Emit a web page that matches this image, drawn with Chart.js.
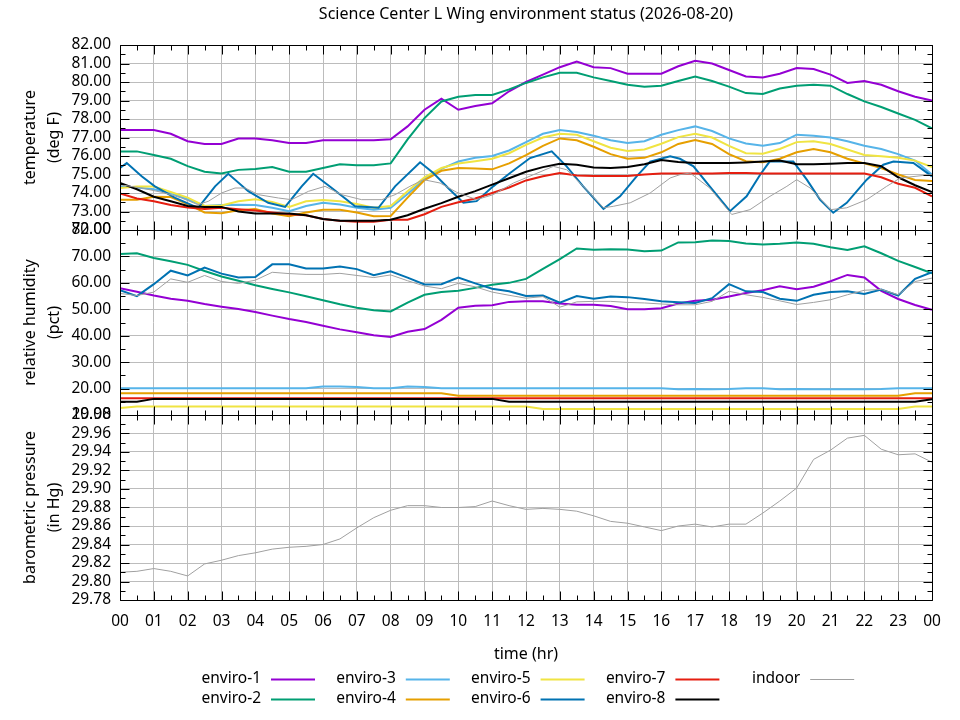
<!DOCTYPE html>
<html>
<head>
<meta charset="utf-8">
<title>Science Center L Wing environment status</title>
<script src="https://cdn.jsdelivr.net/npm/chart.js@4.4.1/dist/chart.umd.min.js"></script>
<style>
  html, body { margin: 0; padding: 0; background: #fff; }
  #wrap { width: 960px; height: 720px; }
</style>
</head>
<body>
<div id="wrap"><canvas id="envChart" width="960" height="720"></canvas></div>
<script>
// sample times, hours since midnight (half hour steps)
var hours = [0, 0.5, 1, 1.5, 2, 2.5, 3, 3.5, 4, 4.5, 5, 5.5, 6, 6.5, 7, 7.5,
             8, 8.5, 9, 9.5, 10, 10.5, 11, 11.5, 12, 12.5, 13, 13.5, 14, 14.5, 15, 15.5,
             16, 16.5, 17, 17.5, 18, 18.5, 19, 19.5, 20, 20.5, 21, 21.5, 22, 22.5, 23, 23.5,
             24];
var hourLabels = ['00', '01', '02', '03', '04', '05', '06', '07', '08', '09', '10', '11',
                  '12', '13', '14', '15', '16', '17', '18', '19', '20', '21', '22', '23', '00'];

var seriesNames  = ['enviro-1', 'enviro-2', 'enviro-3', 'enviro-4', 'enviro-5',
                    'enviro-6', 'enviro-7', 'enviro-8', 'indoor'];
var seriesColors = ['#9400d3', '#009e73', '#56b4e9', '#e69f00', '#f0e442',
                    '#0072b2', '#e51e10', '#000000', '#a0a0a0'];

// temperature (deg F)
var e1Temp = [77.4, 77.4, 77.4, 77.2, 76.8, 76.65, 76.65, 76.95,
              76.95, 76.85, 76.7, 76.7, 76.85, 76.85, 76.85, 76.85,
              76.9, 77.6, 78.5, 79.1, 78.5, 78.7, 78.85, 79.5,
              80.0, 80.4, 80.8, 81.1, 80.8, 80.75, 80.45, 80.45,
              80.45, 80.85, 81.15, 81.0, 80.65, 80.3, 80.25, 80.45,
              80.75, 80.7, 80.4, 79.95, 80.05, 79.85, 79.5, 79.2,
              79.0];
var e2Temp = [76.25, 76.25, 76.05, 75.85, 75.45, 75.15, 75.05, 75.25,
              75.3, 75.4, 75.15, 75.15, 75.35, 75.55, 75.5, 75.5,
              75.6, 76.9, 78.05, 78.95, 79.2, 79.3, 79.3, 79.6,
              79.95, 80.25, 80.5, 80.5, 80.25, 80.05, 79.85, 79.75,
              79.8, 80.05, 80.3, 80.05, 79.75, 79.4, 79.35, 79.65,
              79.8, 79.85, 79.8, 79.35, 78.95, 78.65, 78.3, 77.95,
              77.5];
var e3Temp = [74.36, 74.3, 74.2, 74.0, 73.65, 73.3, 73.35, 73.37,
              73.35, 73.2, 73.02, 73.3, 73.47, 73.38, 73.2, 73.1,
              73.2, 73.95, 74.75, 75.3, 75.7, 75.9, 76.0, 76.3,
              76.75, 77.2, 77.4, 77.3, 77.1, 76.85, 76.7, 76.8,
              77.15, 77.4, 77.6, 77.35, 76.95, 76.68, 76.55, 76.7,
              77.15, 77.1, 77.0, 76.8, 76.55, 76.38, 76.1, 75.75,
              75.0];
var e4Temp = [73.64, 73.64, 73.8, 73.78, 73.4, 72.95, 72.9, 73.07,
              73.14, 72.89, 72.74, 72.95, 73.1, 73.1, 72.95, 72.75,
              72.76, 73.75, 74.7, 75.2, 75.35, 75.33, 75.28, 75.6,
              76.05, 76.55, 76.95, 76.85, 76.5, 76.1, 75.85, 75.9,
              76.2, 76.65, 76.87, 76.65, 76.1, 75.72, 75.66, 75.85,
              76.2, 76.38, 76.2, 75.85, 75.6, 75.35, 75.0, 74.7,
              74.65];
var e5Temp = [74.27, 74.35, 74.35, 74.05, 73.75, 73.3, 73.32, 73.55,
              73.66, 73.52, 73.25, 73.55, 73.62, 73.55, 73.4, 73.2,
              73.3, 74.1, 74.85, 75.35, 75.6, 75.72, 75.85, 76.15,
              76.6, 77.0, 77.2, 77.15, 76.8, 76.45, 76.27, 76.35,
              76.66, 77.02, 77.2, 77.0, 76.55, 76.15, 76.12, 76.38,
              76.75, 76.8, 76.65, 76.35, 76.05, 75.98, 75.9, 75.75,
              75.4];
// enviro-6 and indoor swing like a sawtooth, so they keep their own times
var e6TempT = [0, 0.2, 0.64, 1.03, 1.63, 2.31, 2.81, 3.2, 3.79, 4.38, 4.88, 5.37, 5.71,
               6.26, 6.95, 7.64, 8.13, 8.87, 9.26, 9.75, 10.15, 10.54, 11.03, 11.53, 12.12,
               12.76, 13.2, 13.69, 14.29, 14.78, 15.27, 15.67, 16.26, 16.55, 16.95, 17.43,
               18.03, 18.52, 18.92, 19.2, 19.9, 20.3, 20.69, 21.08, 21.48, 22.07, 22.56,
               22.86, 23.45, 24];
var e6Temp  = [75.35, 75.62, 74.9, 74.36, 73.74, 73.2, 74.36, 75.04, 74.1, 73.47, 73.25, 74.36, 75.04,
               74.27, 73.28, 73.2, 74.36, 75.66, 75.08, 74.18, 73.47, 73.56, 74.36, 75.08, 75.89,
               76.25, 75.44, 74.36, 73.14, 73.82, 74.9, 75.7, 75.98, 75.85, 75.44, 74.36,
               73.02, 73.82, 74.99, 75.7, 75.7, 74.72, 73.64, 72.93, 73.47, 74.72, 75.53,
               75.7, 75.62, 74.9];
var e7Temp = [73.97, 73.7, 73.55, 73.35, 73.22, 73.14, 73.2, 73.12,
              73.05, 72.95, 72.85, 72.8, 72.6, 72.5, 72.45, 72.45,
              72.55, 72.55, 72.85, 73.25, 73.5, 73.7, 74.0, 74.3,
              74.68, 74.9, 75.08, 74.95, 74.92, 74.92, 74.92, 75.0,
              75.05, 75.05, 75.05, 75.05, 75.08, 75.08, 75.05, 75.05,
              75.05, 75.05, 75.05, 75.05, 75.05, 74.85, 74.5, 74.28,
              73.82];
var e8Temp = [74.54, 74.2, 73.8, 73.55, 73.3, 73.25, 73.25, 73.0,
              72.89, 72.89, 72.89, 72.8, 72.6, 72.5, 72.5, 72.5,
              72.55, 72.8, 73.15, 73.45, 73.8, 74.1, 74.45, 74.8,
              75.15, 75.4, 75.58, 75.53, 75.38, 75.35, 75.4, 75.55,
              75.78, 75.68, 75.62, 75.62, 75.62, 75.65, 75.7, 75.75,
              75.55, 75.55, 75.58, 75.62, 75.62, 75.45, 74.85, 74.42,
              74.05];
var indoorTempT = [0, 0.64, 1.33, 1.82, 2.3, 2.61, 3.0, 3.4, 3.7, 4.09, 4.68, 5.07, 5.57,
                   6.06, 6.55, 7.14, 7.74, 8.13, 8.57, 8.97, 9.46, 9.95, 10.54, 11.03, 11.63,
                   12.22, 12.81, 13.2, 13.69, 14.29, 14.58, 15.08, 15.67, 16.26, 16.55, 16.85,
                   17.43, 18.08, 18.62, 19.21, 19.71, 20.0, 20.4, 21.0, 21.48, 22.07, 22.66,
                   23.06, 24];
var indoorTemp  = [74.45, 74.27, 74.0, 73.73, 73.37, 73.55, 74.0, 74.27, 74.27, 73.91, 73.73, 73.64, 74.09,
                   74.36, 73.91, 73.64, 73.64, 73.91, 74.36, 74.72, 74.54, 74.04, 73.64, 73.91, 74.54,
                   74.99, 75.44, 75.26, 74.36, 73.2, 73.28, 73.47, 74.0, 74.81, 74.99, 75.08,
                   74.27, 72.84, 73.1, 73.82, 74.36, 74.72, 74.27, 73.1, 73.2, 73.64, 74.36,
                   74.81, 75.0];

// relative humidity (pct)
var e1Hum = [58.0, 56.6, 55.2, 54.0, 53.2, 52.0, 51.0, 50.1,
             49.0, 47.6, 46.3, 45.2, 43.8, 42.4, 41.3, 40.2,
             39.5, 41.5, 42.5, 46.0, 50.6, 51.3, 51.5, 52.8,
             53.0, 53.0, 52.2, 51.7, 51.7, 51.2, 50.0, 50.0,
             50.4, 52.2, 53.2, 53.6, 54.8, 56.2, 57.2, 58.7,
             57.6, 58.5, 60.6, 63.0, 62.0, 57.0, 53.9, 51.6,
             49.8];
var e2Hum = [70.9, 71.2, 69.4, 68.2, 66.8, 64.5, 62.4, 60.8,
             59.1, 57.7, 56.4, 54.9, 53.4, 51.9, 50.6, 49.6,
             49.2, 52.5, 55.5, 56.5, 57.0, 58.1, 59.3, 60.0,
             61.5, 65.3, 69.0, 73.0, 72.5, 72.7, 72.6, 72.0,
             72.2, 75.3, 75.4, 76.0, 75.8, 74.9, 74.5, 74.8,
             75.3, 74.8, 73.5, 72.4, 73.8, 71.2, 68.3, 66.0,
             63.6];
var e3Hum = [20.1, 20.1, 20.1, 20.1, 20.1, 20.1, 20.1, 20.1,
             20.1, 20.1, 20.1, 20.1, 20.8, 20.8, 20.6, 20.1,
             20.1, 20.8, 20.6, 20.1, 20.1, 20.1, 20.1, 20.1,
             20.1, 20.1, 20.1, 20.1, 20.1, 20.1, 20.1, 20.1,
             20.1, 19.7, 19.8, 19.7, 19.8, 20.1, 20.1, 19.7,
             19.8, 19.7, 19.7, 19.7, 19.7, 19.8, 20.1, 20.1,
             20.1];
var e4Hum = [18.2, 18.2, 18.2, 18.2, 18.2, 18.2, 18.2, 18.2,
             18.2, 18.2, 18.2, 18.2, 18.2, 18.2, 18.2, 18.2,
             18.2, 18.2, 18.2, 18.2, 17.25, 17.25, 17.25, 17.25,
             17.25, 17.25, 17.25, 17.25, 17.25, 17.25, 17.25, 17.25,
             17.25, 17.25, 17.25, 17.25, 17.25, 17.25, 17.25, 17.25,
             17.25, 17.25, 17.25, 17.25, 17.25, 17.25, 17.25, 18.2,
             18.2];
var e5Hum = [12.6, 13.2, 13.2, 13.2, 13.2, 13.2, 13.2, 13.2,
             13.2, 13.2, 13.2, 13.2, 13.2, 13.2, 13.2, 13.2,
             13.2, 13.2, 13.2, 13.2, 13.2, 13.2, 13.2, 13.2,
             13.2, 12.3, 12.3, 12.3, 12.3, 12.3, 12.3, 12.3,
             12.3, 12.3, 12.3, 12.3, 12.3, 12.3, 12.3, 12.3,
             12.3, 12.3, 12.3, 12.3, 12.3, 12.3, 12.3, 13.2,
             13.2];
var e6Hum = [57.2, 55.0, 59.5, 64.6, 62.8, 65.8, 63.5, 62.0,
             62.2, 67.0, 67.0, 65.4, 65.4, 66.2, 65.2, 62.9,
             64.4, 62.0, 59.4, 59.5, 62.0, 59.8, 57.8, 56.8,
             55.0, 55.2, 52.5, 55.0, 54.0, 54.8, 54.6, 53.9,
             53.0, 52.7, 52.4, 54.2, 59.5, 56.8, 56.5, 54.0,
             53.2, 55.5, 56.5, 56.8, 55.8, 57.5, 55.2, 61.5,
             64.0];
var e7Hum = [16.35, 16.35, 16.35, 16.35, 16.35, 16.35, 16.35, 16.35,
             16.35, 16.35, 16.35, 16.35, 16.35, 16.35, 16.35, 16.35,
             16.35, 16.35, 16.35, 16.35, 16.35, 16.35, 16.35, 16.35,
             16.35, 16.35, 16.35, 16.35, 16.35, 16.35, 16.35, 16.35,
             16.35, 16.35, 16.35, 16.35, 16.35, 16.35, 16.35, 16.35,
             16.35, 16.35, 16.35, 16.35, 16.35, 16.35, 16.35, 16.35,
             16.35];
var e8Hum = [15.05, 15.05, 16.1, 16.1, 16.1, 16.1, 16.1, 16.1,
             16.1, 16.1, 16.1, 16.1, 16.1, 16.1, 16.1, 16.1,
             16.1, 16.1, 16.1, 16.1, 16.1, 16.1, 16.1, 15.05,
             15.05, 15.05, 15.05, 15.05, 15.05, 15.05, 15.05, 15.05,
             15.05, 15.05, 15.05, 15.05, 15.05, 15.05, 15.05, 15.05,
             15.05, 15.05, 15.05, 15.05, 15.05, 15.05, 15.05, 15.05,
             16.0];
var indoorHum = [56.0, 55.2, 56.5, 61.5, 60.2, 62.8, 60.5, 59.8,
                 61.0, 64.0, 63.5, 63.2, 63.2, 63.6, 62.8, 62.0,
                 63.0, 60.8, 58.8, 57.8, 59.8, 58.5, 56.5, 55.3,
                 54.2, 54.8, 50.8, 52.8, 53.0, 53.0, 52.6, 52.4,
                 52.0, 51.7, 51.7, 53.0, 56.8, 55.5, 54.5, 53.2,
                 51.8, 52.6, 53.6, 55.5, 57.2, 57.5, 55.5, 60.5,
                 61.8];

// barometric pressure (in Hg), indoor sensor only
var indoorPres = [29.810, 29.811, 29.814, 29.811, 29.806, 29.819, 29.823, 29.828,
                  29.831, 29.835, 29.837, 29.838, 29.840, 29.846, 29.858, 29.869,
                  29.877, 29.882, 29.882, 29.880, 29.880, 29.881, 29.887, 29.882,
                  29.878, 29.879, 29.878, 29.876, 29.871, 29.865, 29.863, 29.859,
                  29.855, 29.860, 29.862, 29.859, 29.862, 29.862, 29.874, 29.887,
                  29.901, 29.932, 29.942, 29.955, 29.958, 29.943, 29.937, 29.938,
                  29.929];

// the three stacked panels
var panelIds    = ['yTemp', 'yHum', 'yPres'];
var panelTitles = [['temperature', '(deg F)'], ['relative humidity', '(pct)'], ['barometric pressure', '(in Hg)']];
var panelMin    = [72, 10, 29.78];
var panelMax    = [82, 80, 29.98];
var panelStep   = [1, 10, 0.02];
var panelMinor  = [0.5, 5, 0.01];

var tempSeries = [[hours, e1Temp], [hours, e2Temp], [hours, e3Temp], [hours, e4Temp], [hours, e5Temp],
                  [e6TempT, e6Temp], [hours, e7Temp], [hours, e8Temp], [indoorTempT, indoorTemp]];
var humSeries  = [e1Hum, e2Hum, e3Hum, e4Hum, e5Hum, e6Hum, e7Hum, e8Hum, indoorHum];

function pts(t, v) {
    var out = [];
    for (var i = 0; i < v.length; i++) {
        out.push({x: t[i], y: v[i]});
    }
    return out;
}

var datasets = [];
var k = 0;
function addSet(label, idx, axis, data) {
    datasets.push({
        label: label,
        data: data,
        yAxisID: axis,
        borderColor: seriesColors[idx],
        borderWidth: idx === 8 ? 1 : 2,
        pointRadius: 0,
        fill: false,
        tension: 0,
        order: -k
    });
    k++;
}
for (var i = 0; i < seriesNames.length; i++) {
    addSet(seriesNames[i], i, 'yTemp', pts(tempSeries[i][0], tempSeries[i][1]));
}
for (var i = 0; i < seriesNames.length; i++) {
    addSet(seriesNames[i], i, 'yHum', pts(hours, humSeries[i]));
}
addSet('indoor', 8, 'yPres', pts(hours, indoorPres));

var gridColor = '#bcbcbc';
var fontFam   = '"Noto Sans", "Open Sans", sans-serif';
Chart.defaults.font.family = fontFam;
Chart.defaults.font.size = 15.5;
Chart.defaults.color = '#000';

var scales = {
    x: {
        type: 'linear',
        position: 'bottom',
        min: 0,
        max: 24,
        afterFit: function (s) { s.height = 120; },
        ticks: {
            stepSize: 1,
            autoSkip: false,
            maxRotation: 0,
            padding: 12,
            callback: function (v) { return hourLabels[v]; }
        },
        grid: { color: gridColor, drawTicks: false },
        border: { display: false },
        title: { display: true, text: 'time (hr)', font: { size: 16 }, padding: { top: 0, bottom: 56 } }
    }
};
for (var p = 0; p < panelIds.length; p++) {
    scales[panelIds[p]] = {
        type: 'linear',
        position: 'left',
        stack: 'env',
        stackWeight: 1,
        weight: 3 - p,
        min: panelMin[p],
        max: panelMax[p],
        afterFit: function (s) { s.width = 120; },
        ticks: {
            stepSize: panelStep[p],
            autoSkip: false,
            padding: 9,
            callback: function (v) { return v.toFixed(2); }
        },
        grid: { color: gridColor, drawTicks: false },
        border: { display: false },
        title: {
            display: true,
            text: panelTitles[p],
            font: { size: 16, lineHeight: '24px' },
            padding: { top: 18.5, bottom: 0 }
        }
    };
}

// gnuplot-like frame: panel borders, inward ticks, title and key
var framePlugin = {
    id: 'frame',
    afterDatasetsDraw: function (chart) {
        var ctx = chart.ctx, area = chart.chartArea, xs = chart.scales.x;
        var left = Math.round(area.left) + 0.5, right = Math.round(area.right) + 0.5;
        ctx.save();
        ctx.strokeStyle = '#000';
        ctx.lineWidth = 1;
        for (var p = 0; p < panelIds.length; p++) {
            var s = chart.scales[panelIds[p]];
            var top = Math.round(s.top) + 0.5, bottom = Math.round(s.bottom) + 0.5;
            ctx.beginPath();
            ctx.rect(left, top, right - left, bottom - top);
            for (var h = 0; h <= 24; h += 0.5) {
                var px = Math.round(xs.getPixelForValue(h)) + 0.5;
                var len = h % 1 === 0 ? 9 : 5;
                ctx.moveTo(px, top); ctx.lineTo(px, top + len);
                ctx.moveTo(px, bottom); ctx.lineTo(px, bottom - len);
            }
            var n = Math.round((panelMax[p] - panelMin[p]) / panelMinor[p]);
            for (var j = 0; j <= n; j++) {
                var py = Math.round(s.getPixelForValue(panelMin[p] + j * panelMinor[p])) + 0.5;
                var l2 = j % 2 === 0 ? 9 : 5;
                ctx.moveTo(left, py); ctx.lineTo(left + l2, py);
                ctx.moveTo(right, py); ctx.lineTo(right - l2, py);
            }
            ctx.stroke();
        }
        ctx.restore();
    },
    afterDraw: function (chart) {
        var ctx = chart.ctx, area = chart.chartArea;
        ctx.save();
        ctx.fillStyle = '#000';
        ctx.font = '16px ' + fontFam;
        ctx.textBaseline = 'middle';
        ctx.textAlign = 'center';
        ctx.fillText('Science Center L Wing environment status (2026-08-20)', (area.left + area.right) / 2, 14);

        // key: five columns, two rows, label then line sample
        var rowY = [679, 699];
        ctx.font = '15.5px ' + fontFam;
        ctx.textAlign = 'right';
        for (var i = 0; i < seriesNames.length; i++) {
            var col = Math.floor(i / 2), row = i % 2;
            var tx = 261 + col * 134.8;
            ctx.fillStyle = '#000';
            ctx.fillText(seriesNames[i], tx, rowY[row]);
            ctx.strokeStyle = seriesColors[i];
            ctx.lineWidth = i === 8 ? 1 : 2;
            ctx.beginPath();
            ctx.moveTo(tx + 10, rowY[row] + 0.5);
            ctx.lineTo(tx + 54, rowY[row] + 0.5);
            ctx.stroke();
        }
        ctx.restore();
    }
};

new Chart(document.getElementById('envChart'), {
    type: 'line',
    data: { datasets: datasets },
    options: {
        responsive: false,
        animation: false,
        devicePixelRatio: 1,
        layout: { padding: { top: 45, right: 28, bottom: 0, left: 0 } },
        plugins: {
            legend: { display: false },
            title: { display: false },
            tooltip: { enabled: false }
        },
        scales: scales
    },
    plugins: [framePlugin]
});
</script>
</body>
</html>
